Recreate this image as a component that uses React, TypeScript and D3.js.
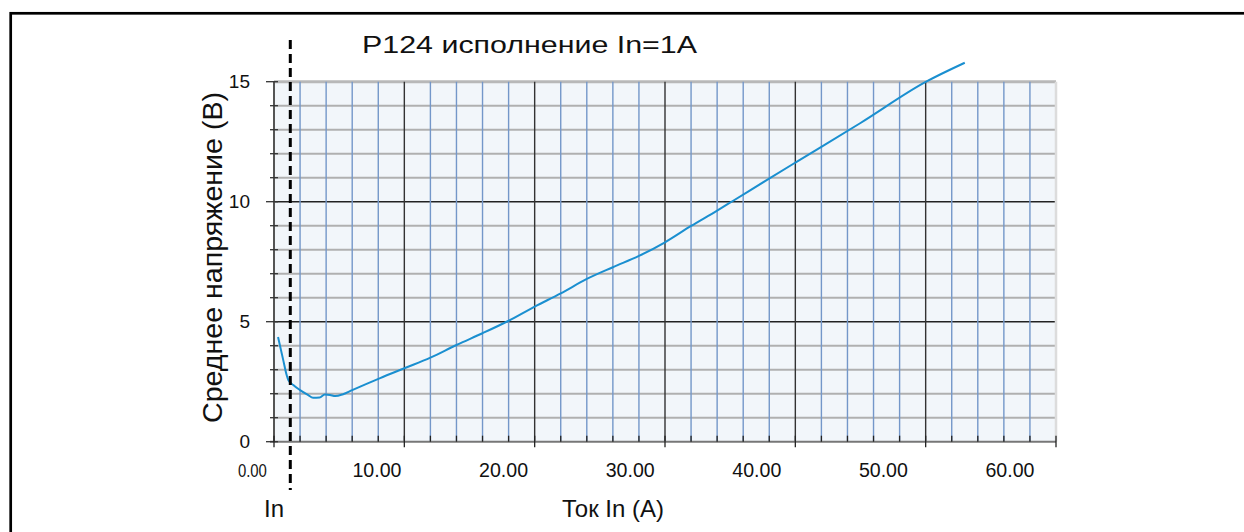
import React from "react";
import * as d3 from "d3";

// ---- data ----
const xTickValues = [0, 10, 20, 30, 40, 50, 60];
const yTickValues = [0, 5, 10, 15];
const chartTitle = "P124 исполнение In=1A";
const yTitle = "Среднее напряжение (В)";
const xTitle = "Ток In (A)";
const markerLabel = "In";
const ratedCurrent = 1.25;

const currentA = [
  0.31, 0.71, 0.97, 1.1, 1.48, 2.0, 2.6, 3.0, 3.5, 3.9, 4.3, 4.7, 5.3, 6.0,
  8.1, 10.0, 12.0, 14.0, 16.0, 18.0, 20.0, 22.0, 24.0, 26.0, 28.0, 30.0,
  32.0, 34.0, 35.2, 37.8, 40.0, 45.0, 50.0, 53.0,
];
const voltageV = [
  4.36, 3.4, 2.78, 2.57, 2.36, 2.15, 1.95, 1.83, 1.84, 1.97, 1.95, 1.9, 1.98,
  2.15, 2.64, 3.06, 3.5, 4.03, 4.52, 5.04, 5.63, 6.18, 6.78, 7.27, 7.74, 8.31,
  8.99, 9.63, 10.03, 10.9, 11.63, 13.28, 14.99, 15.79,
];

const W = 1244;
const H = 532;
const L = 274;
const R = 1056;
const T = 81.7;
const B = 441.7;

export default function App() {
  const x = d3.scaleLinear().domain([0, 60]).range([L, R]);
  const xLab = d3.scaleLinear().domain([0, 60]).range([250.4, 1010]);
  const y = d3.scaleLinear().domain([0, 15]).range([B, T]);
  const fmt = d3.format(".2f");

  const vGrid = d3.range(0, 61, 2);
  const hGrid = d3.range(0, 16, 1);

  const pts: [number, number][] = currentA.map((c, i) => [c, voltageV[i]]);
  const line = d3
    .line<[number, number]>()
    .x((d) => x(d[0]))
    .y((d) => y(d[1]))
    .curve(d3.curveMonotoneX);

  const font = "'Liberation Sans', Arial, sans-serif";

  return (
    <svg
      width={W}
      height={H}
      style={{ position: "absolute", left: 0, top: 0, background: "#fff" }}
      fontFamily={font}
    >
      {/* outer frame */}
      <rect x={10.7} y={13.3} width={1300} height={600} fill="none" stroke="#000" strokeWidth={2.7} />

      {/* plot background */}
      <rect x={L} y={T} width={R - L} height={B - T} fill="#f2f6fa" />

      {/* horizontal grid */}
      {hGrid.map((v) => {
        if (v === 0) return null;
        const major = v % 5 === 0 && v !== 15;
        return (
          <line
            key={"h" + v}
            x1={L}
            x2={R}
            y1={y(v)}
            y2={y(v)}
            stroke={v === 15 ? "#b8b8b8" : major ? "#222" : "#b0b0b0"}
            strokeWidth={v === 15 ? 3 : major ? 1.4 : 2}
          />
        );
      })}

      {/* vertical grid */}
      {vGrid.map((v) => {
        if (v === 0) return null;
        const last = v === 60;
        const major = v % 10 === 0;
        return (
          <line
            key={"v" + v}
            x1={x(v)}
            x2={x(v)}
            y1={T}
            y2={B}
            stroke={last ? "#dcdcdc" : major ? "#333" : "#7497c9"}
            strokeWidth={last ? 2.5 : major ? 1.4 : 1.4}
          />
        );
      })}

      {/* axes lines */}
      <line x1={L} x2={L} y1={T} y2={B} stroke="#555" strokeWidth={2} />
      <line x1={L - 4} x2={R} y1={B} y2={B} stroke="#777" strokeWidth={2} />

      {/* y ticks */}
      {hGrid.map((v) => {
        const major = v % 5 === 0;
        return (
          <line
            key={"yt" + v}
            x1={major ? L - 8 : L - 4}
            x2={L + 4}
            y1={y(v)}
            y2={y(v)}
            stroke="#333"
            strokeWidth={1.3}
          />
        );
      })}
      {/* x ticks */}
      {vGrid.map((v) => {
        const major = v % 10 === 0;
        return (
          <line
            key={"xt" + v}
            x1={x(v)}
            x2={x(v)}
            y1={B - 6}
            y2={major ? B + 5.5 : B}
            stroke="#222"
            strokeWidth={1.3}
          />
        );
      })}

      {/* y tick labels */}
      {yTickValues.map((v) => (
        <text
          key={"yl" + v}
          x={250}
          y={y(v)}
          dy="0.35em"
          textAnchor="end"
          fontSize={19}
          fill="#111"
        >
          {v}
        </text>
      ))}

      {/* x tick labels */}
      {xTickValues.map((v) =>
        v === 0 ? (
          <text
            key={"xl" + v}
            x={xLab(v) + 2 - 14.5}
            y={477}
            fontSize={19}
            fill="#111"
            textLength={29}
            lengthAdjust="spacingAndGlyphs"
          >
            {fmt(v)}
          </text>
        ) : (
          <text key={"xl" + v} x={xLab(v)} y={477} textAnchor="middle" fontSize={19.6} fill="#111">
            {fmt(v)}
          </text>
        )
      )}

      {/* curve */}
      <path d={line(pts) || ""} fill="none" stroke="#1a8fd0" strokeWidth={2} />

      {/* rated current marker */}
      <line
        x1={x(ratedCurrent)}
        x2={x(ratedCurrent)}
        y1={40}
        y2={490}
        stroke="#000"
        strokeWidth={3}
        strokeDasharray="9 5"
      />

      {/* titles */}
      <text x={362} y={53} fontSize={24} fill="#111" textLength={335} lengthAdjust="spacingAndGlyphs">
        {chartTitle}
      </text>
      <text
        transform={`translate(222,257.5) rotate(-90)`}
        textAnchor="middle"
        fontSize={28}
        fill="#111"
        textLength={331}
        lengthAdjust="spacingAndGlyphs"
      >
        {yTitle}
      </text>
      <text x={562} y={517} fontSize={24} fill="#111">
        {xTitle}
      </text>
      <text x={264} y={517} fontSize={24} fill="#111">
        {markerLabel}
      </text>
    </svg>
  );
}
